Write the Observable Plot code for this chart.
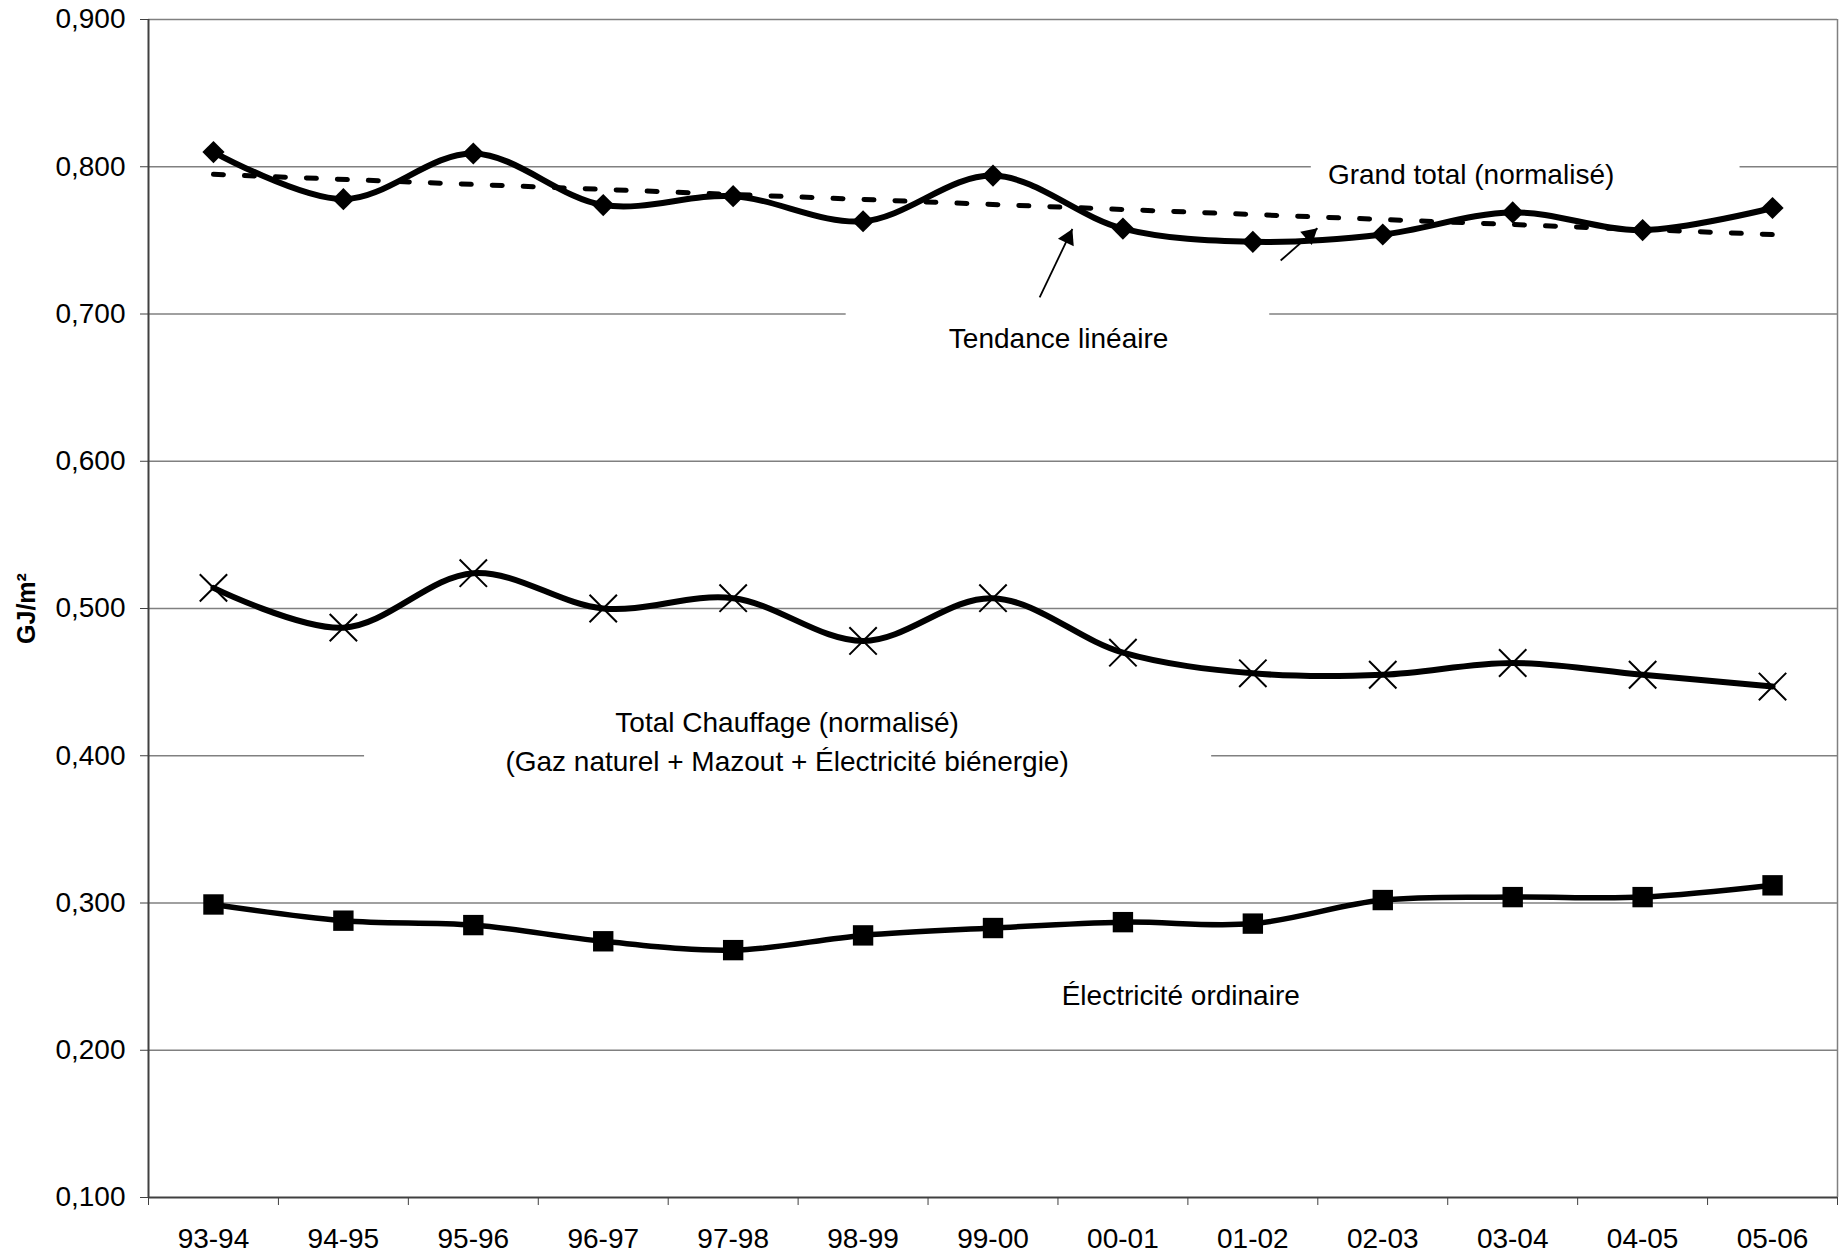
<!DOCTYPE html>
<html>
<head>
<meta charset="utf-8">
<script src="https://cdn.jsdelivr.net/npm/d3@7"></script>
<script src="https://cdn.jsdelivr.net/npm/@observablehq/plot@0.6"></script>
<style>
  body { margin: 0; background: #fff; }
  #chart svg { display: block; }
</style>
</head>
<body>
<div id="chart"></div>
<script>
// ---- data ----
const categories = ["93-94","94-95","95-96","96-97","97-98","98-99","99-00","00-01","01-02","02-03","03-04","04-05","05-06"];
const grandTotal = [0.810,0.778,0.809,0.774,0.780,0.763,0.794,0.758,0.749,0.754,0.769,0.757,0.772];
const totalChauffage = [0.514,0.487,0.524,0.500,0.507,0.478,0.507,0.470,0.456,0.455,0.463,0.455,0.447];
const electricite = [0.299,0.288,0.285,0.274,0.268,0.278,0.283,0.287,0.286,0.302,0.304,0.304,0.312];
const yTicks = [0.1,0.2,0.3,0.4,0.5,0.6,0.7,0.8,0.9];
const yLabel = "GJ/m²";

// annotations (in data units: x = category index, y = GJ/m²)
const annotations = [
  {text: "Grand total (normalisé)", x: 9.68, y: 0.797},
  {text: "Tendance linéaire", x: 6.505, y: 0.6855},
  {text: "Total Chauffage (normalisé)\n(Gaz naturel + Mazout + Électricité biénergie)", x: 4.415, y: 0.4115},
  {text: "Électricité ordinaire", x: 7.445, y: 0.2392}
];
const labelBoxes = [
  {x1: 8.45, x2: 11.75, y1: 0.812, y2: 0.782},
  {x1: 4.87, x2: 8.13, y1: 0.707, y2: 0.668},
  {x1: 1.163, x2: 7.683, y1: 0.432, y2: 0.385}
];
const arrows = [
  {x1: 6.359, y1: 0.7113, x2: 6.611, y2: 0.7578},
  {x1: 8.214, y1: 0.7363, x2: 8.497, y2: 0.7582}
];

// ---- layout ----
const W = 1843, H = 1255;
const mL = 148, mR = 6, mT = 19, mB = 58;
const xDomain = [-0.5, categories.length - 0.5];
const yDomain = [0.1, 0.9];

const rows = arr => arr.map((v, i) => ({i, v, cat: categories[i]}));
const gt = rows(grandTotal), tc = rows(totalChauffage), el = rows(electricite);

// arrowheads: compute rotation & centroid from the same scales Plot uses
const sx = d3.scaleLinear(xDomain, [mL, W - mR]);
const sy = d3.scaleLinear(yDomain, [H - mB, mT]);
const headR = 6.5;
const tipDist = 2 * Math.sqrt(Math.PI * headR * headR / (3 * Math.sqrt(3)));
const heads = arrows.map(a => {
  const px1 = sx(a.x1), py1 = sy(a.y1), px2 = sx(a.x2), py2 = sy(a.y2);
  const dx = px2 - px1, dy = py2 - py1, len = Math.hypot(dx, dy);
  const ux = dx / len, uy = dy / len;
  const cx = px2 - ux * tipDist, cy = py2 - uy * tipDist;
  return {x: sx.invert(cx), y: sy.invert(cy), rot: Math.atan2(dx, -dy) * 180 / Math.PI};
});

const fmt = d => d.toFixed(3).replace(".", ",");

const chart = Plot.plot({
  width: W,
  height: H,
  marginLeft: mL,
  marginRight: mR,
  marginTop: mT,
  marginBottom: mB,
  style: {fontFamily: "'Liberation Sans', Arial, sans-serif", fontSize: "28px", color: "black", background: "white"},
  x: {type: "linear", domain: xDomain, label: null},
  y: {domain: yDomain, label: null},
  marks: [
    // gridlines
    Plot.ruleY(yTicks.filter(d => d > 0.1), {stroke: "#808080", strokeWidth: 1.3}),
    // white label backgrounds interrupting gridlines
    Plot.rect(labelBoxes, {x1: "x1", x2: "x2", y1: "y1", y2: "y2", fill: "white"}),
    // frame
    Plot.ruleX([xDomain[1]], {stroke: "#808080", strokeWidth: 1.5}),
    Plot.ruleX([xDomain[0]], {stroke: "#404040", strokeWidth: 2}),
    Plot.ruleY([0.1], {stroke: "#404040", strokeWidth: 2}),
    // axes
    Plot.axisY({ticks: yTicks, tickSize: 8, tickPadding: 15, tickFormat: fmt, stroke: "#404040", label: null}),
    Plot.axisX({ticks: d3.range(-0.5, categories.length, 1), tickSize: 8, tickFormat: () => "", stroke: "#404040", label: null}),
    Plot.axisX({ticks: d3.range(categories.length), tickSize: 0, tickPadding: 31, tickFormat: i => categories[i], label: null}),
    Plot.text([yLabel], {frameAnchor: "left", rotate: -90, dx: -122, textAnchor: "middle", fontWeight: "bold", fontSize: 25}),
    // trend line
    Plot.linearRegressionY(gt, {x: "i", y: "v", ci: 0, stroke: "black", strokeWidth: 5, strokeDasharray: "10 21"}),
    // series lines
    Plot.line(gt, {x: "i", y: "v", curve: "catmull-rom", stroke: "black", strokeWidth: 6}),
    Plot.line(tc, {x: "i", y: "v", curve: "catmull-rom", stroke: "black", strokeWidth: 6}),
    Plot.line(el, {x: "i", y: "v", curve: "catmull-rom", stroke: "black", strokeWidth: 5.5}),
    // markers
    Plot.dot(gt, {x: "i", y: "v", symbol: "diamond2", r: 10, fill: "black"}),
    Plot.dot(tc, {x: "i", y: "v", symbol: "times", r: 12.5, stroke: "black", strokeWidth: 2}),
    Plot.dot(el, {x: "i", y: "v", symbol: "square", r: 11.5, fill: "black"}),
    // annotations
    Plot.link(arrows, {x1: "x1", y1: "y1", x2: "x2", y2: "y2", stroke: "black", strokeWidth: 1.8}),
    Plot.dot(heads, {x: "x", y: "y", rotate: "rot", symbol: "triangle", r: headR, fill: "black"}),
    Plot.text(annotations, {x: "x", y: "y", text: "text", fontSize: 28, lineHeight: 1.386, textAnchor: "middle", fill: "black"})
  ]
});
document.getElementById("chart").append(chart);
</script>
</body>
</html>
